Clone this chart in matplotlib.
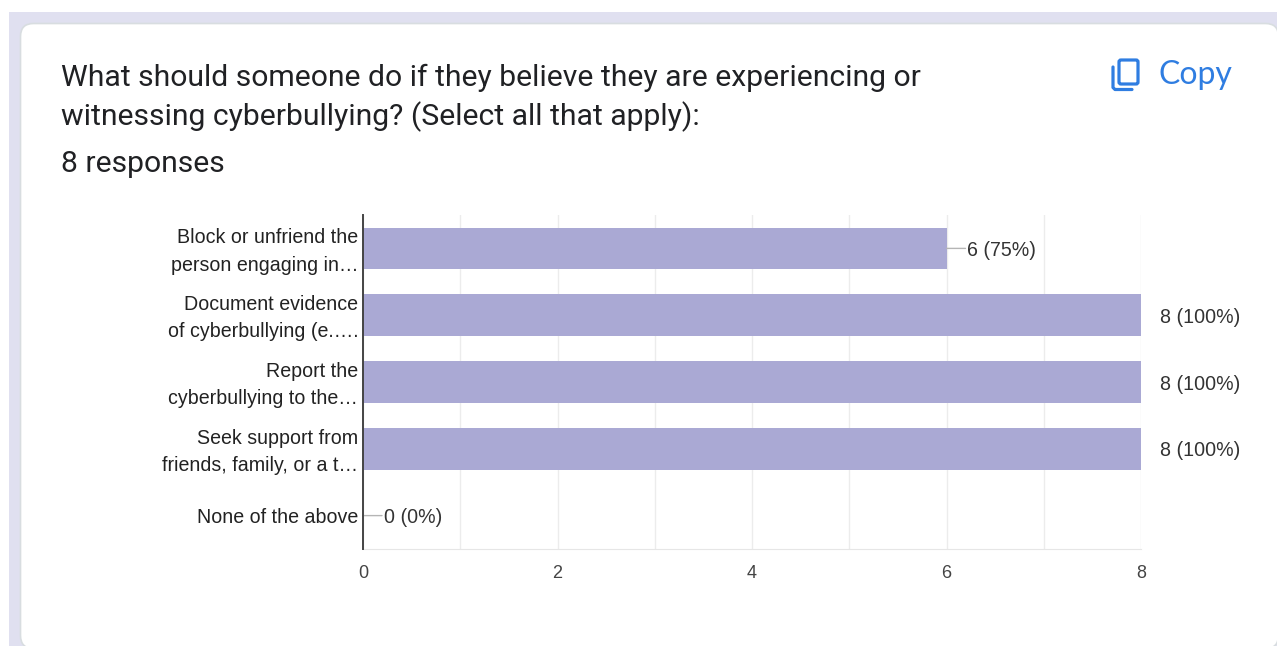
import matplotlib
matplotlib.use("Agg")
import matplotlib.pyplot as plt
from matplotlib.patches import FancyBboxPatch, Rectangle
from matplotlib.transforms import ScaledTranslation

categories = [
    "Block or unfriend the\nperson engaging in\u2026",
    "Document evidence\nof cyberbullying (e.\u2026.",
    "Report the\ncyberbullying to the\u2026",
    "Seek support from\nfriends, family, or a t\u2026",
    "None of the above",
]
counts = [6, 8, 8, 8, 0]
percents = [75, 100, 100, 100, 0]
xticks = [0, 2, 4, 6, 8]
title_lines = [
    "What should someone do if they believe they are experiencing or",
    "witnessing cyberbullying? (Select all that apply):",
]
subtitle = "8 responses"

W, H = 1277, 646
BAR = "#aaa9d4"
BLUE = "#2f7de1"

fig = plt.figure(figsize=(W / 100, H / 100), dpi=100, facecolor="white")

# page background and card, in pixel coordinates
bg = fig.add_axes([0, 0, 1, 1])
bg.set_xlim(0, W)
bg.set_ylim(H, 0)
bg.axis("off")
bg.add_patch(Rectangle((9, 12), W, H, fc="#e0e0f0", ec="none"))
bg.add_patch(FancyBboxPatch((20.5, 23.5), W - 19, H - 21, boxstyle="round,pad=0,rounding_size=13",
                            fc="white", ec="#d8dde0", lw=1.2))

for line, y in zip(title_lines, [78, 117]):
    bg.text(61, y, line, fontsize=21.7, family="Roboto", color="#202124", va="center", ha="left")
bg.text(61, 163.5, subtitle, fontsize=21.7, family="Roboto", color="#202124", va="center", ha="left")

# copy icon
bg.add_patch(FancyBboxPatch((1119, 60), 19, 24, boxstyle="round,pad=0,rounding_size=2",
                            fc="none", ec=BLUE, lw=2.3))
bg.plot([1113, 1113, 1115, 1132], [67, 87.5, 89.5, 89.5], color=BLUE, lw=2.3, solid_capstyle="round")
bg.text(1159, 75, "Copy", fontsize=23, family="Lato", color=BLUE, va="center", ha="left")

# chart
ax = fig.add_axes([363 / W, 1 - 549 / H, (1141 - 363) / W, (549 - 215) / H])
ax.set_facecolor("none")
pos = range(len(categories))
ax.barh(pos, counts, height=0.62, color=BAR, zorder=2)
ax.set_xlim(0, 8)
ax.set_ylim(len(categories) - 0.5, -0.5)

ax.set_xticks(range(0, 9), minor=False)
ax.set_xticklabels([str(t) if t in xticks else "" for t in range(0, 9)],
                   fontsize=13, family="Liberation Sans", color="#444444")
ax.set_yticks(list(pos))
ax.set_yticklabels(categories, fontsize=14.1, family="Liberation Sans", color="#222222",
                   linespacing=1.55, ha="right")
ax.tick_params(axis="both", length=0)
ax.tick_params(axis="x", pad=11.5)
ax.tick_params(axis="y", pad=3.5)
ax.grid(axis="x", color="#ececec", lw=1, zorder=0)
ax.set_axisbelow(True)
for s in ["top", "right"]:
    ax.spines[s].set_visible(False)
ax.spines["bottom"].set_color("#e6e6e6")
ax.spines["left"].set_color("#444444")
ax.spines["left"].set_linewidth(1.4)
ax.spines["left"].set_zorder(5)

# two-line labels sit a little high in the original
up = ScaledTranslation(0, 3 / 72 * 0.72, fig.dpi_scale_trans)
for lab in ax.get_yticklabels():
    if "\n" in lab.get_text():
        lab.set_transform(lab.get_transform() + up)

for i, (c, p) in enumerate(zip(counts, percents)):
    label = f"{c} ({p}%)"
    if c < max(xticks):
        ax.annotate("", xy=(c, i), xytext=(19, 0), textcoords="offset pixels",
                    arrowprops=dict(arrowstyle="-", color="#b5b5b5", lw=1, shrinkA=0, shrinkB=0))
        dx = 20.5
    else:
        dx = 19
    ax.annotate(label, xy=(c, i), xytext=(dx, -2), textcoords="offset pixels", va="center",
                fontsize=14.1, family="Liberation Sans", color="#333333", annotation_clip=False)

fig.savefig("out.png", dpi=100)
